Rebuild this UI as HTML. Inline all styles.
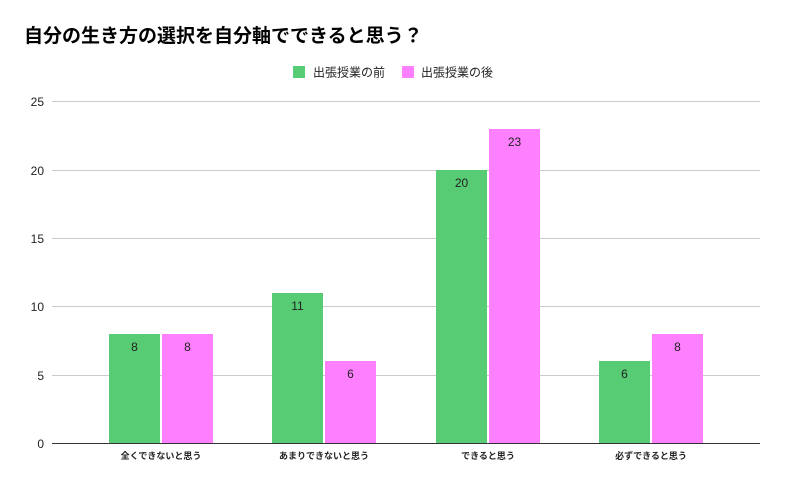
<!DOCTYPE html>
<html><head><meta charset="utf-8"><style>
body{margin:0;background:#fff;}
svg text{font-family:"Liberation Sans","Noto Sans CJK JP",sans-serif;}
</style></head><body>
<svg width="785" height="486" viewBox="0 0 785 486" xmlns="http://www.w3.org/2000/svg">
<rect width="785" height="486" fill="#fff"/>
<text x="24" y="42" font-size="19" font-weight="bold" fill="#000">自分の生き方の選択を自分軸でできると思う？</text>
<rect x="293" y="66" width="12" height="12" fill="#57cc74"/>
<text x="313" y="76.5" font-size="12" fill="#222">出張授業の前</text>
<rect x="402" y="66" width="12" height="12" fill="#ff80ff"/>
<text x="421" y="76.5" font-size="12" fill="#222">出張授業の後</text>
<g stroke="#cccccc" stroke-width="1">
<line x1="52" y1="101.5" x2="760" y2="101.5"/>
<line x1="52" y1="170.5" x2="760" y2="170.5"/>
<line x1="52" y1="238.5" x2="760" y2="238.5"/>
<line x1="52" y1="306.5" x2="760" y2="306.5"/>
<line x1="52" y1="375.5" x2="760" y2="375.5"/>
</g>
<g font-size="12" fill="#222" text-anchor="end">
<text x="44" y="106">25</text><text x="44" y="175">20</text><text x="44" y="243">15</text>
<text x="44" y="311">10</text><text x="44" y="380">5</text><text x="44" y="448">0</text>
</g>
<g fill="#57cc74">
<rect x="109" y="334" width="51" height="109"/>
<rect x="272" y="293" width="51" height="150"/>
<rect x="436" y="170" width="51" height="273"/>
<rect x="599" y="361" width="51" height="82"/>
</g>
<g fill="#ff80ff">
<rect x="162" y="334" width="51" height="109"/>
<rect x="325" y="361" width="51" height="82"/>
<rect x="489" y="129" width="51" height="314"/>
<rect x="652" y="334" width="51" height="109"/>
</g>
<line x1="52" y1="443.5" x2="760" y2="443.5" stroke="#333" stroke-width="1"/>
<g font-size="12" fill="#222" text-anchor="middle">
<text x="134.5" y="351">8</text><text x="187.5" y="351">8</text>
<text x="297.5" y="310">11</text><text x="350.5" y="378">6</text>
<text x="461.5" y="187">20</text><text x="514.5" y="146">23</text>
<text x="624.5" y="378">6</text><text x="677.5" y="351">8</text>
</g>
<g font-size="9" font-weight="bold" fill="#222" text-anchor="middle">
<text x="161" y="459">全くできないと思う</text>
<text x="324" y="459">あまりできないと思う</text>
<text x="488" y="459">できると思う</text>
<text x="651" y="459">必ずできると思う</text>
</g>
</svg>
</body></html>
